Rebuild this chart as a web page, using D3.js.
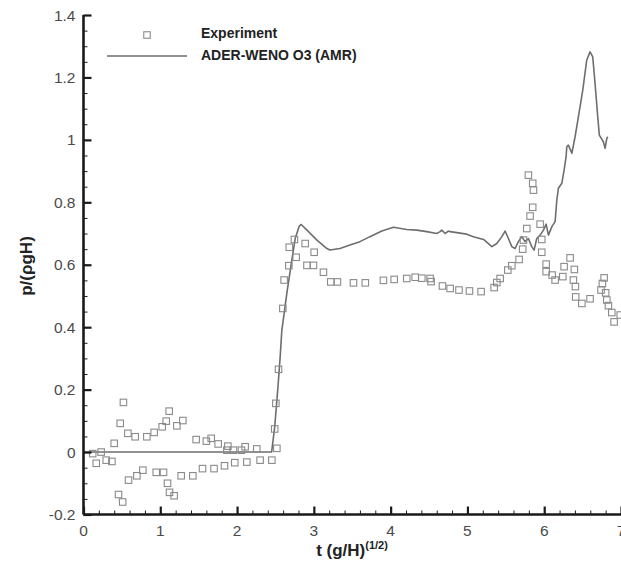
<!DOCTYPE html>
<html>
<head>
<meta charset="utf-8">
<script src="https://cdn.jsdelivr.net/npm/d3@7"></script>
<style>
  html, body { margin: 0; padding: 0; background: #fff; }
  svg { display: block; }
  text { font-family: "Liberation Sans", Arial, Helvetica, sans-serif; }
</style>
</head>
<body>
<svg id="chart" width="621" height="571"></svg>
<script>
// Experimental pressure samples: time t (g/H)^(1/2) and p/(rho g H)
const expT = [0.12, 0.166, 0.23, 0.296, 0.37, 0.40, 0.478, 0.52, 0.456, 0.51, 0.578, 0.586, 0.673, 0.695,
  0.773, 0.825, 0.92, 0.947, 1.025, 1.042, 1.077, 1.116, 1.094, 1.12, 1.18, 1.216, 1.294, 1.272,
  1.424, 1.467, 1.55, 1.60, 1.663, 1.70, 1.754, 1.836, 1.88, 1.867, 1.953, 1.97, 2.057, 2.105,
  2.127, 2.257, 2.30, 2.453, 2.518, 2.49, 2.505, 2.54, 2.596, 2.613, 2.674, 2.68, 2.747, 2.77,
  2.887, 2.91, 2.995, 3.004, 3.125, 3.22, 3.307, 3.516, 3.67, 3.906, 4.046, 4.21, 4.32, 4.406,
  4.514, 4.527, 4.675, 4.775, 4.89, 5.026, 5.178, 5.348, 5.383, 5.426, 5.526, 5.578, 5.673, 5.72,
  5.73, 5.773, 5.816, 5.85, 5.794, 5.85, 5.86, 5.947, 5.968, 5.968, 6.025, 6.025, 6.103, 6.142,
  6.242, 6.259, 6.337, 6.393, 6.38, 6.406, 6.41, 6.49, 6.597, 6.78, 6.758, 6.74, 6.80, 6.815,
  6.836, 6.88, 6.91, 6.99];
const expP = [-0.005, -0.036, 0.0, -0.026, -0.03, 0.028, 0.092, 0.159, -0.136, -0.16, 0.06, -0.09, 0.049, -0.076,
  -0.058, 0.049, 0.063, -0.065, 0.081, -0.065, 0.099, 0.131, -0.10, -0.129, -0.14, 0.084, 0.101, -0.076,
  -0.076, 0.04, -0.053, 0.035, 0.044, -0.053, 0.026, -0.044, 0.019, 0.006, 0.006, -0.034, 0.006, 0.017,
  -0.032, 0.01, -0.026, -0.026, 0.012, 0.074, 0.156, 0.265, 0.46, 0.551, 0.597, 0.656, 0.681, 0.624,
  0.668, 0.598, 0.598, 0.64, 0.576, 0.545, 0.545, 0.542, 0.542, 0.55, 0.553, 0.556, 0.56, 0.557,
  0.556, 0.546, 0.532, 0.524, 0.519, 0.516, 0.514, 0.527, 0.543, 0.556, 0.583, 0.597, 0.617, 0.65,
  0.679, 0.716, 0.756, 0.784, 0.887, 0.861, 0.839, 0.73, 0.681, 0.64, 0.602, 0.578, 0.567, 0.551,
  0.562, 0.594, 0.622, 0.585, 0.551, 0.53, 0.497, 0.476, 0.491, 0.558, 0.54, 0.519, 0.51, 0.487,
  0.469, 0.447, 0.417, 0.439];

// ADER-WENO O3 (AMR) numerical solution
const simT = [0, 2.45, 2.49, 2.53, 2.56, 2.583, 2.648, 2.713, 2.757, 2.81, 2.835, 2.91, 3.04, 3.17, 3.21,
  3.34, 3.47, 3.6, 3.73, 3.885, 4.036, 4.21, 4.34, 4.47, 4.6, 4.645, 4.665, 4.71, 4.75, 4.775,
  4.862, 4.99, 5.078, 5.21, 5.318, 5.383, 5.448, 5.49, 5.534, 5.578, 5.62, 5.664, 5.708, 5.75,
  5.794, 5.838, 5.868, 5.903, 5.947, 5.99, 6.025, 6.055, 6.1, 6.142, 6.164, 6.185, 6.229, 6.259,
  6.285, 6.294, 6.315, 6.36, 6.402, 6.445, 6.502, 6.554, 6.597, 6.632, 6.662, 6.697, 6.718, 6.77,
  6.793, 6.815, 6.828];
const simP = [0, 0, 0.08, 0.2, 0.3, 0.39, 0.508, 0.615, 0.684, 0.724, 0.729, 0.711, 0.679, 0.652, 0.647,
  0.652, 0.663, 0.674, 0.69, 0.708, 0.72, 0.713, 0.711, 0.706, 0.70, 0.706, 0.711, 0.70, 0.708, 0.706,
  0.703, 0.698, 0.69, 0.681, 0.658, 0.668, 0.69, 0.708, 0.684, 0.658, 0.652, 0.674, 0.69, 0.674,
  0.684, 0.658, 0.647, 0.684, 0.695, 0.711, 0.73, 0.695, 0.722, 0.738, 0.807, 0.845, 0.861, 0.903,
  0.946, 0.978, 0.983, 0.957, 1.01, 1.074, 1.159, 1.256, 1.282, 1.266, 1.181, 1.074, 1.015, 0.994,
  0.973, 1.005, 1.01];

const xTicks = [0, 1, 2, 3, 4, 5, 6, 7];
const yTicks = [-0.2, 0, 0.2, 0.4, 0.6, 0.8, 1, 1.2, 1.4];
const legendLabels = ["Experiment", "ADER-WENO O3 (AMR)"];

const svg = d3.select("#chart");
const plotLeft = 83.5, plotRight = 621, plotTop = 15, plotBottom = 514.5;

const x = d3.scaleLinear().domain([0, 7]).range([plotLeft, plotRight]);
const y = d3.scaleLinear().domain([-0.2, 1.4]).range([plotBottom, plotTop]);

const axisColor = "#1a1a1a";
const labelColor = "#4a4a4a";
// Tick numbers with a plain hyphen for negatives
const fmt = (d) => d3.format("~g")(d).replace("\u2212", "-");

// Numerical solution line
const line = d3.line().x((d, i) => x(simT[i])).y((d, i) => y(simP[i]));
svg.append("path")
  .datum(simP)
  .attr("d", line)
  .attr("fill", "none")
  .attr("stroke", "#6e6e6e")
  .attr("stroke-width", 1.6)
  .attr("stroke-linejoin", "round");

// Experimental markers (open squares)
const sq = 6.5;
svg.append("g").selectAll("rect")
  .data(expT)
  .join("rect")
  .attr("x", (d) => x(d) - sq / 2)
  .attr("y", (d, i) => y(expP[i]) - sq / 2)
  .attr("width", sq)
  .attr("height", sq)
  .attr("fill", "none")
  .attr("stroke", "#8a8a8a")
  .attr("stroke-width", 1.1);

// Axes with inward ticks
const xAxis = d3.axisTop(x).tickValues(xTicks).tickSize(8).tickFormat("");
const xMinor = d3.axisTop(x).tickValues(d3.range(0, 7.001, 0.2)).tickSize(4).tickFormat("");
const yAxis = d3.axisRight(y).tickValues(yTicks).tickSize(8).tickFormat("");
const yMinor = d3.axisRight(y).tickValues(d3.range(-0.2, 1.4001, 0.05)).tickSize(4).tickFormat("");

function styleAxis(g, w) {
  g.select(".domain").remove();
  g.selectAll("line").attr("stroke", axisColor).attr("stroke-width", w);
}
svg.append("g").attr("transform", `translate(0,${plotBottom})`).call(xMinor).call(styleAxis, 1);
svg.append("g").attr("transform", `translate(0,${plotBottom})`).call(xAxis).call(styleAxis, 2.2);
svg.append("g").attr("transform", `translate(${plotLeft},0)`).call(yMinor).call(styleAxis, 1);
svg.append("g").attr("transform", `translate(${plotLeft},0)`).call(yAxis).call(styleAxis, 2.2);

// Axis lines
svg.append("line").attr("x1", plotLeft).attr("x2", plotRight).attr("y1", plotBottom).attr("y2", plotBottom)
  .attr("stroke", axisColor).attr("stroke-width", 2.6);
svg.append("line").attr("x1", plotLeft).attr("x2", plotLeft).attr("y1", plotTop).attr("y2", plotBottom)
  .attr("stroke", axisColor).attr("stroke-width", 2.6);

// Tick labels
svg.append("g").selectAll("text")
  .data(xTicks)
  .join("text")
  .attr("x", (d) => x(d))
  .attr("y", plotBottom + 21)
  .attr("text-anchor", "middle")
  .attr("font-size", 15.5)
  .attr("fill", labelColor)
  .text(fmt);

svg.append("g").selectAll("text")
  .data(yTicks)
  .join("text")
  .attr("x", plotLeft - 8)
  .attr("y", (d) => y(d) + 5.5)
  .attr("text-anchor", "end")
  .attr("font-size", 15.5)
  .attr("fill", labelColor)
  .text(fmt);

// Axis titles
const xt = svg.append("text")
  .attr("x", 352)
  .attr("y", 556)
  .attr("text-anchor", "middle")
  .attr("font-size", 17)
  .attr("font-weight", "bold")
  .attr("fill", "#222");
xt.append("tspan").text("t (g/H)");
xt.append("tspan").attr("dy", -7).attr("font-size", 11).text("(1/2)");

svg.append("text")
  .attr("transform", "translate(32,266) rotate(-90)")
  .attr("text-anchor", "middle")
  .attr("font-size", 17)
  .attr("font-weight", "bold")
  .attr("fill", "#222")
  .text("p/(ρgH)");

// Legend
const lg = svg.append("g");
lg.append("rect")
  .attr("x", 147 - sq / 2).attr("y", 35 - sq / 2)
  .attr("width", sq).attr("height", sq)
  .attr("fill", "none").attr("stroke", "#8a8a8a").attr("stroke-width", 1.1);
lg.append("line")
  .attr("x1", 107).attr("x2", 187).attr("y1", 56).attr("y2", 56)
  .attr("stroke", "#6e6e6e").attr("stroke-width", 1.6);
lg.selectAll("text.lab")
  .data(legendLabels)
  .join("text")
  .attr("class", "lab")
  .attr("x", 201)
  .attr("y", (d, i) => 38 + i * 22)
  .attr("font-size", 14)
  .attr("font-weight", "bold")
  .attr("fill", "#222")
  .text((d) => d);
</script>
</body>
</html>
